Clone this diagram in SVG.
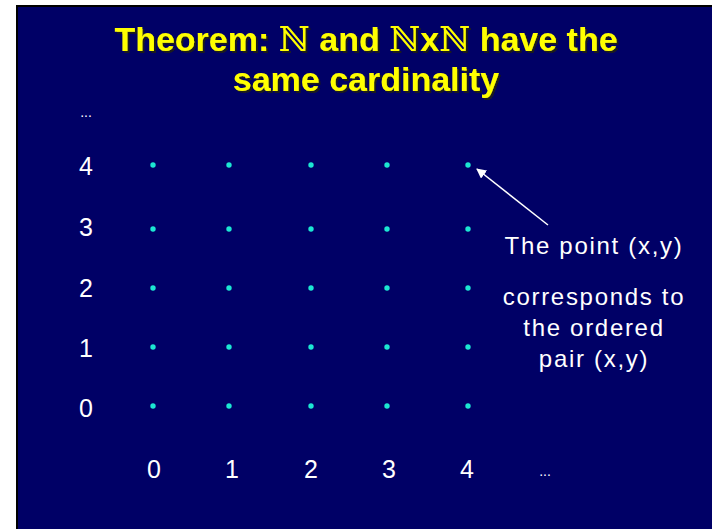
<svg xmlns="http://www.w3.org/2000/svg" width="712" height="529" viewBox="0 0 712 529">
<defs>
<style>
.title{font-family:"Liberation Sans",Arial,sans-serif;font-weight:bold;font-size:34px;text-anchor:middle;fill:#FFFF00}
.bb{font-family:"DejaVu Serif",serif;font-weight:normal}
.lbl{font-family:"Liberation Sans",Arial,sans-serif;font-size:25px;fill:#FFFFFF;text-anchor:middle}
.note{font-family:"Liberation Sans",Arial,sans-serif;font-size:24px;fill:#FFFFFF;text-anchor:middle;letter-spacing:1.7px}
.dots{font-family:"Liberation Sans",Arial,sans-serif;font-size:14px;fill:#FFFFFF;text-anchor:middle}
.pt{fill:#1CE6D2}
</style>
<filter id="shadow" x="-5%" y="-20%" width="110%" height="140%">
<feDropShadow dx="2" dy="2" stdDeviation="0" flood-color="#1a1a1a" flood-opacity="1"/>
</filter>
<marker id="ah" viewBox="0 0 10 10" refX="9" refY="5" markerWidth="10" markerHeight="10" markerUnits="userSpaceOnUse" orient="auto">
<path d="M0,0 L10,5 L0,10 z" fill="#FFFFFF"/>
</marker>
</defs>
<rect x="0" y="0" width="712" height="529" fill="#FFFFFF"/>
<rect x="16" y="5" width="696" height="524" fill="#000000"/>
<rect x="18" y="7" width="694" height="522" fill="#000066"/>

<g id="title" filter="url(#shadow)">
<text class="title" x="366" y="51">Theorem: <tspan class="bb">ℕ</tspan> and <tspan class="bb">ℕ</tspan>x<tspan class="bb">ℕ</tspan> have the</text>
<text class="title" x="366" y="91">same cardinality</text>
</g>

<g id="row-labels">
<text class="dots" x="86" y="117">...</text>
<text class="lbl" x="86" y="175">4</text>
<text class="lbl" x="86" y="236">3</text>
<text class="lbl" x="86" y="297">2</text>
<text class="lbl" x="86" y="357">1</text>
<text class="lbl" x="86" y="417">0</text>
</g>

<g id="col-labels">
<text class="lbl" x="154" y="478">0</text>
<text class="lbl" x="232" y="478">1</text>
<text class="lbl" x="311" y="478">2</text>
<text class="lbl" x="389" y="478">3</text>
<text class="lbl" x="467" y="478">4</text>
<text class="dots" x="545" y="476">...</text>
</g>

<g id="points">
<circle class="pt" cx="153" cy="165" r="2.7"/><circle class="pt" cx="229" cy="165" r="2.7"/><circle class="pt" cx="311" cy="165" r="2.7"/><circle class="pt" cx="387" cy="165" r="2.7"/><circle class="pt" cx="468" cy="165" r="2.7"/>
<circle class="pt" cx="153" cy="229" r="2.7"/><circle class="pt" cx="229" cy="229" r="2.7"/><circle class="pt" cx="311" cy="229" r="2.7"/><circle class="pt" cx="387" cy="229" r="2.7"/><circle class="pt" cx="468" cy="229" r="2.7"/>
<circle class="pt" cx="153" cy="288" r="2.7"/><circle class="pt" cx="229" cy="288" r="2.7"/><circle class="pt" cx="311" cy="288" r="2.7"/><circle class="pt" cx="387" cy="288" r="2.7"/><circle class="pt" cx="468" cy="288" r="2.7"/>
<circle class="pt" cx="153" cy="347" r="2.7"/><circle class="pt" cx="229" cy="347" r="2.7"/><circle class="pt" cx="311" cy="347" r="2.7"/><circle class="pt" cx="387" cy="347" r="2.7"/><circle class="pt" cx="468" cy="347" r="2.7"/>
<circle class="pt" cx="153" cy="406" r="2.7"/><circle class="pt" cx="229" cy="406" r="2.7"/><circle class="pt" cx="311" cy="406" r="2.7"/><circle class="pt" cx="387" cy="406" r="2.7"/><circle class="pt" cx="468" cy="406" r="2.7"/>
</g>

<g id="connectors">
<line x1="548" y1="225" x2="477" y2="169" stroke="#FFFFFF" stroke-width="1.5" marker-end="url(#ah)"/>
</g>

<g id="note">
<text class="note" x="594" y="254">The point (x,y)</text>
<text class="note" x="594" y="305">corresponds to</text>
<text class="note" x="594" y="336">the ordered</text>
<text class="note" x="594" y="367">pair (x,y)</text>
</g>
</svg>
